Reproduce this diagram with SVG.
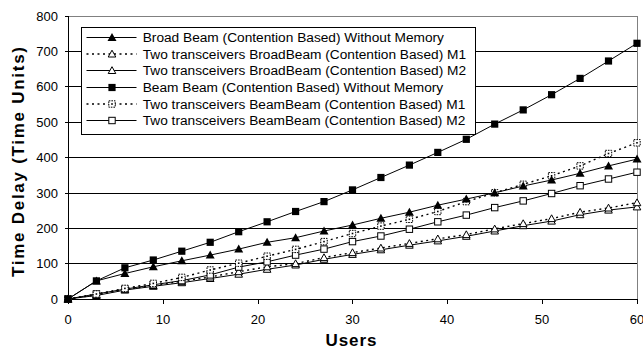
<svg xmlns="http://www.w3.org/2000/svg" width="643" height="349" viewBox="0 0 643 349">
  <style>
    text { font-family: "Liberation Sans", Arial, sans-serif; fill: #000; }
    .tick { font-size: 13px; }
    .ytick { text-anchor: end; }
    .xtick { text-anchor: middle; }
    .title { font-size: 17px; font-weight: bold; }
    .leg { font-size: 13.7px; }
    .grid { stroke: #000; stroke-width: 1; shape-rendering: crispEdges; }
    .frame { stroke: #808080; stroke-width: 1; fill: none; shape-rendering: crispEdges; }
    .line { fill: none; stroke: #000; stroke-width: 1; }
    .dot { stroke-width: 1.4; stroke-dasharray: 2 3.5; }
    .filled { fill: #000; stroke: none; }
    .open { fill: #fff; stroke: #000; stroke-width: 1; }
  </style>
  <defs>
    <path id="triF" class="filled" d="M0,-4.5 L4.5,3.5 L-4.5,3.5 Z"/>
    <path id="triO" class="open" d="M0,-3.8 L3.8,3 L-3.8,3 Z"/>
    <rect id="sqF" class="filled" x="-3.6" y="-3.6" width="7.2" height="7.2"/>
    <rect id="sqO" class="open" x="-3.2" y="-3.2" width="6.4" height="6.4"/>
    <g id="sqD">
      <rect class="open" x="-3.2" y="-3.2" width="6.4" height="6.4" stroke-dasharray="1.6 1"/>
      <rect class="filled" x="-0.8" y="-0.8" width="1.6" height="1.6"/>
    </g>
  </defs>

  <!-- plot area: gridlines, frame and axes -->
  <g id="axes">
    <rect x="0" y="0" width="643" height="349" fill="#fff"/>
    <line class="grid" x1="65" y1="263.5" x2="637" y2="263.5"/>
    <line class="grid" x1="65" y1="228.5" x2="637" y2="228.5"/>
    <line class="grid" x1="65" y1="193.5" x2="637" y2="193.5"/>
    <line class="grid" x1="65" y1="157.5" x2="637" y2="157.5"/>
    <line class="grid" x1="65" y1="122.5" x2="637" y2="122.5"/>
    <line class="grid" x1="65" y1="86.5" x2="637" y2="86.5"/>
    <line class="grid" x1="65" y1="51.5" x2="637" y2="51.5"/>
    <line class="grid" x1="65" y1="16.5" x2="68" y2="16.5"/>
    <path class="frame" d="M68.5,16.5 H637.5 V299"/>
    <line class="grid" x1="65" y1="299.5" x2="637" y2="299.5"/>
    <line class="grid" x1="68.5" y1="16" x2="68.5" y2="304"/>
    <line class="grid" x1="163.5" y1="299" x2="163.5" y2="304"/>
    <line class="grid" x1="258.5" y1="299" x2="258.5" y2="304"/>
    <line class="grid" x1="352.5" y1="299" x2="352.5" y2="304"/>
    <line class="grid" x1="447.5" y1="299" x2="447.5" y2="304"/>
    <line class="grid" x1="542.5" y1="299" x2="542.5" y2="304"/>
    <line class="grid" x1="637.5" y1="299" x2="637.5" y2="304"/>

    <text class="tick ytick" x="58" y="304">0</text>
    <text class="tick ytick" x="58" y="268">100</text>
    <text class="tick ytick" x="58" y="233">200</text>
    <text class="tick ytick" x="58" y="198">300</text>
    <text class="tick ytick" x="58" y="162">400</text>
    <text class="tick ytick" x="58" y="127">500</text>
    <text class="tick ytick" x="58" y="91">600</text>
    <text class="tick ytick" x="58" y="56">700</text>
    <text class="tick ytick" x="58" y="21">800</text>

    <text class="tick xtick" x="68" y="324">0</text>
    <text class="tick xtick" x="163" y="324">10</text>
    <text class="tick xtick" x="258" y="324">20</text>
    <text class="tick xtick" x="352.5" y="324">30</text>
    <text class="tick xtick" x="447" y="324">40</text>
    <text class="tick xtick" x="542" y="324">50</text>
    <text class="tick xtick" x="637" y="324">60</text>

    <text class="title" x="325.5" y="346" textLength="51" lengthAdjust="spacing">Users</text>
    <text class="title" transform="translate(24,162) rotate(-90)" x="-115" y="0" textLength="230" lengthAdjust="spacing">Time Delay (Time Units)</text>
  </g>

  <!-- data series -->
  <g id="connectors">
    <polyline id="s1-line" class="line" points="68,299 96.4,280.9 124.9,273.5 153.3,266.8 181.8,260.8 210.2,255.1 238.7,249.1 267.1,242.3 295.6,237.7 324,231 352.5,225 380.9,218.3 409.4,212.2 437.8,205.2 466.3,199.1 494.7,192.8 523.2,186 551.6,180 580.1,173.3 608.5,165.9 637,159.1"/>
    <polyline id="s2-line" class="line dot" points="68,299 96.4,294.8 124.9,289.4 153.3,285.5 181.8,281.3 210.2,277 238.7,271.7 267.1,266.8 295.6,263.6 324,257.6 352.5,252.6 380.9,248 409.4,243.4 437.8,238.8 466.3,234.6 494.7,228.9 523.2,223.6 551.6,218.6 580.1,212.2 608.5,208 637,202.7"/>
    <polyline id="s3-line" class="line" points="68,299 96.4,295.5 124.9,290.1 153.3,286.3 181.8,282.7 210.2,278.5 238.7,274.2 267.1,269.3 295.6,265 324,259.3 352.5,254.4 380.9,249.8 409.4,245.2 437.8,240.9 466.3,236.3 494.7,231 523.2,225.7 551.6,221.1 580.1,214.7 608.5,210.1 637,206.9"/>
    <polyline id="s4-line" class="line" points="68,299 96.4,280.9 124.9,267.8 153.3,260 181.8,251.2 210.2,242.3 238.7,231.7 267.1,221.8 295.6,211.5 324,201.6 352.5,189.9 380.9,177.5 409.4,165.1 437.8,152.4 466.3,139.3 494.7,124.1 523.2,109.9 551.6,94.7 580.1,78.4 608.5,61 637,43.3"/>
    <polyline id="s5-line" class="line dot" points="68,299 96.4,294 124.9,288.4 153.3,283.4 181.8,277.4 210.2,270 238.7,263.2 267.1,256.2 295.6,249.4 324,241.6 352.5,233.5 380.9,226.1 409.4,219.3 437.8,211.5 466.3,201.6 494.7,192.8 523.2,184.3 551.6,175.8 580.1,165.9 608.5,153.5 637,142.8"/>
    <polyline id="s6-line" class="line" points="68,299 96.4,294 124.9,289.1 153.3,284.8 181.8,280.6 210.2,274.9 238.7,267.1 267.1,261.8 295.6,255.1 324,249.1 352.5,241.6 380.9,236 409.4,229.2 437.8,221.8 466.3,215.1 494.7,207.6 523.2,200.9 551.6,193.5 580.1,185.7 608.5,179 637,172.2"/>
  </g>

  <!-- markers -->
  <g id="s3-markers">
    <use href="#triO" x="68" y="299"/><use href="#triO" x="96.4" y="295.5"/><use href="#triO" x="124.9" y="290.1"/><use href="#triO" x="153.3" y="286.3"/><use href="#triO" x="181.8" y="282.7"/><use href="#triO" x="210.2" y="278.5"/><use href="#triO" x="238.7" y="274.2"/><use href="#triO" x="267.1" y="269.3"/><use href="#triO" x="295.6" y="265"/><use href="#triO" x="324" y="259.3"/><use href="#triO" x="352.5" y="254.4"/><use href="#triO" x="380.9" y="249.8"/><use href="#triO" x="409.4" y="245.2"/><use href="#triO" x="437.8" y="240.9"/><use href="#triO" x="466.3" y="236.3"/><use href="#triO" x="494.7" y="231"/><use href="#triO" x="523.2" y="225.7"/><use href="#triO" x="551.6" y="221.1"/><use href="#triO" x="580.1" y="214.7"/><use href="#triO" x="608.5" y="210.1"/><use href="#triO" x="637" y="206.9"/>
  </g>
  <g id="s2-markers">
    <use href="#triO" x="68" y="299"/><use href="#triO" x="96.4" y="294.8"/><use href="#triO" x="124.9" y="289.4"/><use href="#triO" x="153.3" y="285.5"/><use href="#triO" x="181.8" y="281.3"/><use href="#triO" x="210.2" y="277"/><use href="#triO" x="238.7" y="271.7"/><use href="#triO" x="267.1" y="266.8"/><use href="#triO" x="295.6" y="263.6"/><use href="#triO" x="324" y="257.6"/><use href="#triO" x="352.5" y="252.6"/><use href="#triO" x="380.9" y="248"/><use href="#triO" x="409.4" y="243.4"/><use href="#triO" x="437.8" y="238.8"/><use href="#triO" x="466.3" y="234.6"/><use href="#triO" x="494.7" y="228.9"/><use href="#triO" x="523.2" y="223.6"/><use href="#triO" x="551.6" y="218.6"/><use href="#triO" x="580.1" y="212.2"/><use href="#triO" x="608.5" y="208"/><use href="#triO" x="637" y="202.7"/>
  </g>
  <g id="s6-markers">
    <use href="#sqO" x="68" y="299"/><use href="#sqO" x="96.4" y="294"/><use href="#sqO" x="124.9" y="289.1"/><use href="#sqO" x="153.3" y="284.8"/><use href="#sqO" x="181.8" y="280.6"/><use href="#sqO" x="210.2" y="274.9"/><use href="#sqO" x="238.7" y="267.1"/><use href="#sqO" x="267.1" y="261.8"/><use href="#sqO" x="295.6" y="255.1"/><use href="#sqO" x="324" y="249.1"/><use href="#sqO" x="352.5" y="241.6"/><use href="#sqO" x="380.9" y="236"/><use href="#sqO" x="409.4" y="229.2"/><use href="#sqO" x="437.8" y="221.8"/><use href="#sqO" x="466.3" y="215.1"/><use href="#sqO" x="494.7" y="207.6"/><use href="#sqO" x="523.2" y="200.9"/><use href="#sqO" x="551.6" y="193.5"/><use href="#sqO" x="580.1" y="185.7"/><use href="#sqO" x="608.5" y="179"/><use href="#sqO" x="637" y="172.2"/>
  </g>
  <g id="s5-markers">
    <use href="#sqD" x="68" y="299"/><use href="#sqD" x="96.4" y="294"/><use href="#sqD" x="124.9" y="288.4"/><use href="#sqD" x="153.3" y="283.4"/><use href="#sqD" x="181.8" y="277.4"/><use href="#sqD" x="210.2" y="270"/><use href="#sqD" x="238.7" y="263.2"/><use href="#sqD" x="267.1" y="256.2"/><use href="#sqD" x="295.6" y="249.4"/><use href="#sqD" x="324" y="241.6"/><use href="#sqD" x="352.5" y="233.5"/><use href="#sqD" x="380.9" y="226.1"/><use href="#sqD" x="409.4" y="219.3"/><use href="#sqD" x="437.8" y="211.5"/><use href="#sqD" x="466.3" y="201.6"/><use href="#sqD" x="494.7" y="192.8"/><use href="#sqD" x="523.2" y="184.3"/><use href="#sqD" x="551.6" y="175.8"/><use href="#sqD" x="580.1" y="165.9"/><use href="#sqD" x="608.5" y="153.5"/><use href="#sqD" x="637" y="142.8"/>
  </g>
  <g id="s1-markers">
    <use href="#triF" x="68" y="299"/><use href="#triF" x="96.4" y="280.9"/><use href="#triF" x="124.9" y="273.5"/><use href="#triF" x="153.3" y="266.8"/><use href="#triF" x="181.8" y="260.8"/><use href="#triF" x="210.2" y="255.1"/><use href="#triF" x="238.7" y="249.1"/><use href="#triF" x="267.1" y="242.3"/><use href="#triF" x="295.6" y="237.7"/><use href="#triF" x="324" y="231"/><use href="#triF" x="352.5" y="225"/><use href="#triF" x="380.9" y="218.3"/><use href="#triF" x="409.4" y="212.2"/><use href="#triF" x="437.8" y="205.2"/><use href="#triF" x="466.3" y="199.1"/><use href="#triF" x="494.7" y="192.8"/><use href="#triF" x="523.2" y="186"/><use href="#triF" x="551.6" y="180"/><use href="#triF" x="580.1" y="173.3"/><use href="#triF" x="608.5" y="165.9"/><use href="#triF" x="637" y="159.1"/>
  </g>
  <g id="s4-markers">
    <use href="#sqF" x="68" y="299"/><use href="#sqF" x="96.4" y="280.9"/><use href="#sqF" x="124.9" y="267.8"/><use href="#sqF" x="153.3" y="260"/><use href="#sqF" x="181.8" y="251.2"/><use href="#sqF" x="210.2" y="242.3"/><use href="#sqF" x="238.7" y="231.7"/><use href="#sqF" x="267.1" y="221.8"/><use href="#sqF" x="295.6" y="211.5"/><use href="#sqF" x="324" y="201.6"/><use href="#sqF" x="352.5" y="189.9"/><use href="#sqF" x="380.9" y="177.5"/><use href="#sqF" x="409.4" y="165.1"/><use href="#sqF" x="437.8" y="152.4"/><use href="#sqF" x="466.3" y="139.3"/><use href="#sqF" x="494.7" y="124.1"/><use href="#sqF" x="523.2" y="109.9"/><use href="#sqF" x="551.6" y="94.7"/><use href="#sqF" x="580.1" y="78.4"/><use href="#sqF" x="608.5" y="61"/><use href="#sqF" x="637" y="43.3"/>
  </g>

  <!-- legend -->
  <g id="legend">
    <rect x="81.5" y="27.5" width="394" height="107" fill="#fff" stroke="#000" stroke-width="1" shape-rendering="crispEdges"/>
    <line class="line" x1="86.5" y1="37.5" x2="136.5" y2="37.5"/>
    <use href="#triF" x="112" y="37.5"/>
    <text class="leg" x="142.7" y="42">Broad Beam (Contention Based) Without Memory</text>
    <line class="line dot" x1="86.5" y1="54" x2="136.5" y2="54"/>
    <use href="#triO" x="112" y="54"/>
    <text class="leg" x="142.7" y="58.5">Two transceivers BroadBeam (Contention Based) M1</text>
    <line class="line" x1="86.5" y1="70.5" x2="136.5" y2="70.5"/>
    <use href="#triO" x="112" y="70.5"/>
    <text class="leg" x="142.7" y="75">Two transceivers BroadBeam (Contention Based) M2</text>
    <line class="line" x1="86.5" y1="87.5" x2="136.5" y2="87.5"/>
    <use href="#sqF" x="112" y="87.5"/>
    <text class="leg" x="142.7" y="92">Beam Beam (Contention Based) Without Memory</text>
    <line class="line dot" x1="86.5" y1="104" x2="136.5" y2="104"/>
    <use href="#sqD" x="112" y="104"/>
    <text class="leg" x="142.7" y="108.5">Two transceivers BeamBeam (Contention Based) M1</text>
    <line class="line" x1="86.5" y1="120.5" x2="136.5" y2="120.5"/>
    <use href="#sqO" x="112" y="120.5"/>
    <text class="leg" x="142.7" y="125">Two transceivers BeamBeam (Contention Based) M2</text>
  </g>
</svg>
